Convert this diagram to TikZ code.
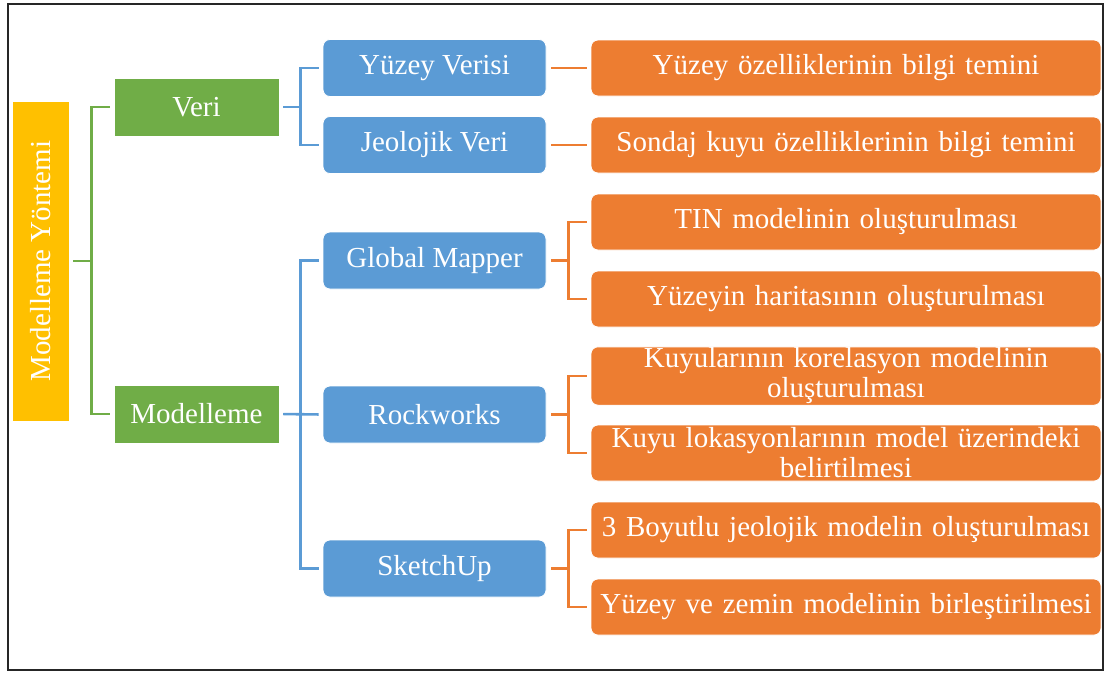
\documentclass[tikz,border=0pt]{standalone}
\usepackage{fontspec}
\setmainfont{Liberation Serif}
\usepackage{xcolor}
\usepackage{tikz}
\usetikzlibrary{positioning, calc}

\definecolor{sari}{HTML}{FFC000}
\definecolor{yesil}{HTML}{70AD47}
\definecolor{mavi}{HTML}{5B9BD5}
\definecolor{turuncu}{HTML}{ED7D31}

\begin{document}
\begin{tikzpicture}[
        x=1pt, y=-1pt, % 1 birim = 1 piksel (y asagi dogru)
        kutu/.style={rectangle, draw=white, line width=0.8pt, text=white, align=center, inner sep=1pt, font=\fontsize{29}{30}\selectfont},
        ana/.style={kutu, fill=sari, minimum width=320, minimum height=57, rotate=90},
        grup/.style={kutu, fill=yesil, minimum width=165, minimum height=58},
        arac/.style={kutu, fill=mavi, rounded corners=7pt, minimum width=223, minimum height=57},
        is/.style={kutu, fill=turuncu, rounded corners=7pt, minimum width=510, minimum height=56, text width=504},
        bagY/.style={draw=yesil, line width=2.6pt, shorten <=4pt, shorten >=4pt},
        bagM/.style={draw=mavi, line width=2.6pt, shorten <=4pt, shorten >=4pt},
        bagT/.style={draw=turuncu, line width=2.6pt, shorten <=5pt, shorten >=4pt}
        ]
        \useasboundingbox (0,0) rectangle (1105,673);
        \draw[line width=2.2pt, black!85] (8,4) rectangle (1103,670);

        % Sol blok ve ana gruplar
        \node[ana] (yontem) at (40.5, 261) {Modelleme Yöntemi};
        \node[grup] (veri) at (196.5, 107) {Veri};
        \node[grup] (modelleme) at (196.5, 414) {Modelleme};

        % Araclar / veri turleri
        \node[arac] (yuzeyv) at (434.5, 68) {Yüzey Verisi};
        \node[arac] (jeoveri) at (434.5, 145) {Jeolojik Veri};
        \node[arac] (gmapper) at (434.5, 260.5) {Global Mapper};
        \node[arac] (rockw) at (434.5, 414.5) {Rockworks};
        \node[arac] (sketch) at (434.5, 568.5) {SketchUp};

        % Yapilan isler
        \node[is] (is1) at (846, 68) {Yüzey özelliklerinin bilgi temini};
        \node[is] (is2) at (846, 145) {Sondaj kuyu özelliklerinin bilgi temini};
        \node[is] (is3) at (846, 222) {TIN modelinin oluşturulması};
        \node[is] (is4) at (846, 299) {Yüzeyin haritasının oluşturulması};
        \node[is] (is5) at (846, 376) {Kuyularının korelasyon modelinin\\oluşturulması};
        \node[is] (is6) at (846, 453) {Kuyu lokasyonlarının model üzerindeki\\belirtilmesi};
        \node[is] (is7) at (846, 530) {3 Boyutlu jeolojik modelin oluşturulması};
        \node[is] (is8) at (846, 607) {Yüzey ve zemin modelinin birleştirilmesi};

        % Baglantilar: ana -> gruplar
        \path[bagY] (yontem.south) -- ++(22,0) |- (veri.west);
        \path[bagY] (yontem.south) -- ++(22,0) |- (modelleme.west);

        % gruplar -> araclar
        \path[bagM] (veri.east) -- ++(21,0) |- (yuzeyv.west);
        \path[bagM] (veri.east) -- ++(21,0) |- (jeoveri.west);
        \path[bagM] (modelleme.east) -- ++(21,0) |- (gmapper.west);
        \path[bagM] (modelleme.east) -- (rockw.west);
        \path[bagM] (modelleme.east) -- ++(21,0) |- (sketch.west);

        % araclar -> isler
        \path[bagT] (yuzeyv.east) -- (is1.west);
        \path[bagT] (jeoveri.east) -- (is2.west);
        \path[bagT] (gmapper.east) -- ++(22,0) |- (is3.west);
        \path[bagT] (gmapper.east) -- ++(22,0) |- (is4.west);
        \path[bagT] (rockw.east) -- ++(22,0) |- (is5.west);
        \path[bagT] (rockw.east) -- ++(22,0) |- (is6.west);
        \path[bagT] (sketch.east) -- ++(22,0) |- (is7.west);
        \path[bagT] (sketch.east) -- ++(22,0) |- (is8.west);

    \end{tikzpicture}
\end{document}
